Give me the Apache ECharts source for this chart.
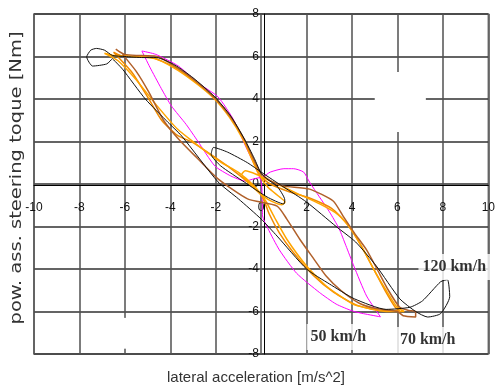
<!DOCTYPE html>
<html><head><meta charset="utf-8">
<script src="https://cdn.jsdelivr.net/npm/echarts@6/dist/echarts.min.js"></script>
<style>html,body{margin:0;padding:0;background:#fff}#c{width:498px;height:390px}</style>
</head><body><div id="c"></div>
<script>
var xTicks = [-10,-8,-6,-4,-2,0,2,4,6,8,10];
var yTicks = [-8,-6,-4,-2,0,2,4,6,8];

var black120 = [[-6.55,5.9],[-6.8,5.65],[-7.42,5.55],[-7.68,5.98],[-7.5,6.3],[-7.25,6.38],[-6.9,6.3],[-6.55,6.05],[-6.0,6.0],[-5.2,5.95],[-4.6,5.95],[-3.8,5.6],[-3.0,5.0],[-2.04,4.1],[-1.34,3.2],[-0.74,2.12],[-0.3,1.2],[0,0.5],[0.3,0.2],[0.69,-0.09],[1.04,-0.75],[1.0,-0.94],[0.26,-0.61],[-0.74,0.09],[-1.78,0.85],[-2.2,1.4],[-2.1,1.72],[-1.48,1.5],[-0.6,1.0],[0,0.56],[1.0,-0.15],[2.0,-0.85],[3.3,-2.0],[4.16,-2.73],[5.07,-3.86],[6.1,-5.4],[6.8,-6.0],[7.33,-6.26],[7.9,-6.1],[8.3,-5.3],[8.2,-4.5],[7.9,-4.6],[7.1,-5.5],[6.55,-5.8],[5.5,-5.9],[4.1,-5.4],[3.0,-4.7],[2.0,-4.0],[0.7,-2.45],[0,-1.65],[-1.0,-0.7],[-1.9,0.1],[-3.5,2.26],[-4.1,2.9],[-5.1,4.0],[-6.1,5.4],[-6.55,5.9]];

var magenta50 = [[-5.25,6.26],[-4.64,6.1],[-3.64,5.55],[-2.78,4.75],[-1.9,4.1],[-1.2,3.0],[-0.69,1.79],[-0.3,0.9],[0,0.1],[0.05,-0.8],[0.06,-1.5],[0.3,-2.1],[0.8,-3.1],[1.56,-4.2],[2.56,-5.1],[3.3,-5.65],[4.03,-5.98],[4.5,-6.1],[5.25,-6.25],[4.64,-5.27],[4.08,-3.86],[3.73,-2.9],[3.43,-2.1],[3.0,-1.3],[2.56,-0.6],[2.13,0.09],[1.87,0.56],[1.43,0.72],[1.0,0.72],[0.4,0.56],[0.1,0.35],[-0.3,0.25],[-0.7,0.14],[-1.34,0.38],[-2.04,0.85],[-2.78,2.0],[-3.3,2.8],[-3.95,3.67],[-4.4,4.5],[-4.9,5.5],[-5.25,6.26]];

var orange70 = [[-6.9,6.15],[-6.5,6.05],[-5.5,6.0],[-4.7,5.9],[-3.9,5.5],[-3.0,4.85],[-2.1,4.05],[-1.4,3.15],[-0.8,2.1],[-0.4,1.15],[-0.1,0.45],[0.3,-0.15],[0.8,-0.6],[1.05,-0.85],[0.9,-0.98],[0.3,-0.72],[-0.4,-0.1],[-0.85,0.45],[-0.7,0.62],[-0.2,0.45],[0.6,0.05],[1.6,-0.45],[2.6,-0.95],[3.4,-1.45],[4.0,-2.2],[4.5,-3.1],[5.0,-4.1],[5.5,-5.0],[5.95,-5.75],[6.3,-6.0],[5.5,-6.0],[4.73,-5.85],[4.03,-5.65],[2.86,-4.8],[2.0,-3.86],[1.13,-2.6],[0.6,-1.6],[0.2,-0.8],[-0.3,-0.1],[-1.0,0.55],[-1.78,1.03],[-2.7,1.75],[-3.7,2.6],[-4.6,3.7],[-5.5,4.9],[-6.3,5.8],[-6.9,6.15]];

var orange2 = [[-6.5,6.2],[-6.2,6.05],[-5.6,6.0],[-4.8,5.95],[-3.9,5.55],[-3.0,4.9],[-2.0,4.0],[-1.3,3.1],[-0.75,2.05],[-0.35,1.1],[0.0,0.35],[0.4,0.0],[1.2,-0.35],[2.1,-0.65],[3.1,-1.15],[3.8,-1.9],[4.4,-2.9],[5.0,-4.1],[5.5,-5.1],[5.9,-5.8],[6.1,-5.95],[5.3,-5.95],[4.2,-5.7],[3.2,-5.1],[2.3,-4.3],[1.4,-3.2],[0.8,-2.3],[0.35,-1.4],[0.05,-0.6],[-0.5,0.0],[-1.3,0.7],[-2.3,1.45],[-3.0,1.95],[-3.7,2.3],[-4.38,3.0],[-5.0,4.1],[-5.7,5.27],[-6.5,6.2]];

var brown = [[-6.4,6.35],[-6.2,6.2],[-6.0,6.1],[-5.5,6.05],[-4.6,6.0],[-3.8,5.55],[-3.0,4.95],[-2.04,4.05],[-1.34,3.15],[-0.74,2.1],[-0.3,1.1],[0,0.5],[0.5,0.1],[1.0,-0.1],[2.13,-0.24],[3.17,-0.8],[3.6,-1.5],[4.1,-2.3],[4.64,-3.1],[5.1,-4.0],[5.6,-5.0],[6.1,-5.8],[6.5,-5.95],[6.8,-6.0],[6.8,-6.26],[6.25,-6.2],[6.0,-6.0],[5.0,-5.85],[4.3,-5.6],[3.5,-5.0],[2.86,-4.33],[2.3,-3.5],[1.7,-2.6],[1.13,-1.65],[0.7,-1.04],[-0.6,-0.7],[-1.9,0.24],[-2.8,1.2],[-3.64,2.12],[-4.3,3.0],[-4.95,4.33],[-5.5,5.3],[-6.1,6.1]];

var speedLabels = [
  {name:'120 km/h', value:[8.5,-3.9]},
  {name:'50 km/h', value:[3.4,-7.2]},
  {name:'70 km/h', value:[7.33,-7.34]}
];

var tickFont = '"Liberation Sans Narrow","Liberation Sans",Arial,sans-serif';

var chart = echarts.init(document.getElementById('c'), null, {renderer:'canvas'});
function lineSeries(name, data, color, width, z){
  return {name:name, type:'line', data:data, smooth:0.2, showSymbol:false, symbol:'none',
    lineStyle:{color:color, width:width}, z:z, animation:false, silent:true};
}
var option = {
  animation:false,
  backgroundColor:'#fff',
  grid:{left:34, right:2, top:14, bottom:36, show:true, borderColor:'#a0a0a0', borderWidth:2, backgroundColor:'transparent'},
  xAxis:{type:'value', min:-10, max:10, interval:2, position:'bottom', offset:-169,
    axisLine:{show:true, onZero:false, lineStyle:{color:'#000', width:1}},
    axisTick:{show:false},
    axisLabel:{margin:17, fontSize:12, color:'#111', fontFamily:tickFont},
    splitLine:{show:true, lineStyle:{color:'#505050', width:1.5}}},
  yAxis:{type:'value', min:-8, max:8, interval:2, position:'left', offset:-230,
    axisLine:{show:true, onZero:false, lineStyle:{color:'#000', width:1}},
    axisTick:{show:false},
    axisLabel:{margin:5, fontSize:12, color:'#111', fontFamily:tickFont},
    splitLine:{show:true, lineStyle:{color:'#303030', width:1.5}}},
  graphic:[
    {type:'text', x:256, y:378, style:{text:'lateral acceleration [m/s^2]', fontSize:15, fontFamily:tickFont, fill:'#333', align:'center', verticalAlign:'middle'}},
    {type:'text', x:17, y:178, rotation:Math.PI/2, scaleX:1.3, style:{text:'pow. ass. steering toque [Nm]', fontSize:15, fontFamily:'"DejaVu Sans",sans-serif', fill:'#333', align:'center', verticalAlign:'middle'}}
  ],
  series:[
    {type:'line', data:[], z:1, silent:true,
      markArea:{silent:true, itemStyle:{color:'#fff'}, data:[
        [{coord:[5.0,2.45]},{coord:[7.25,5.27]}],
        [{coord:[-6.2,-7.75]},{coord:[-5.8,-6.3]}]
      ]}},
    lineSeries('50 km/h', magenta50, '#ff00ff', 1, 2),
    lineSeries('orange2', orange2, '#f08a00', 1.5, 3),
    lineSeries('70 km/h', orange70, '#ffa500', 1.5, 3),
    lineSeries('brown', brown, '#b0602a', 1.5, 4),
    lineSeries('120 km/h', black120, '#111', 1, 5),
    {type:'scatter', data:speedLabels, symbolSize:0, z:10, silent:true,
      label:{show:true, position:'inside', formatter:'{b}', fontFamily:'"Liberation Serif","Times New Roman",serif',
        fontSize:16, fontWeight:'bold', color:'#000', backgroundColor:'#fff', padding:[4,4,6,4]}}
  ]
};
chart.setOption(option);
</script></body></html>
